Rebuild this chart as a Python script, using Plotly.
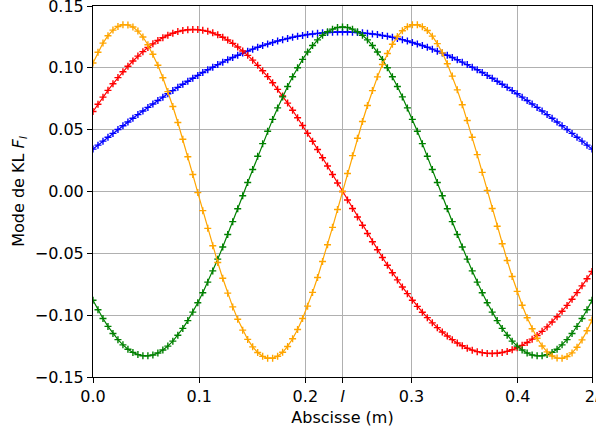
import numpy as np
import plotly.graph_objects as go

# abscissa sampling grid (m), 0 .. 2l with l = 0.235
x = np.linspace(0.0, 0.47, 101)

mode1 = [0.0343,0.0375,0.0407,0.0439,0.0470,0.0501,0.0532,0.0562,0.0592,0.0622,
0.0651,0.0680,0.0708,0.0736,0.0763,0.0790,0.0816,0.0842,0.0867,0.0892,
0.0916,0.0939,0.0962,0.0984,0.1005,0.1026,0.1046,0.1065,0.1084,0.1102,
0.1119,0.1135,0.1151,0.1166,0.1180,0.1193,0.1205,0.1217,0.1228,0.1237,
0.1247,0.1255,0.1262,0.1269,0.1274,0.1279,0.1283,0.1286,0.1288,0.1290,
0.1290,
0.1290,0.1288,0.1286,0.1283,0.1279,0.1274,0.1269,0.1262,0.1255,0.1247,
0.1237,0.1228,0.1217,0.1205,0.1193,0.1180,0.1166,0.1151,0.1135,0.1119,
0.1102,0.1084,0.1065,0.1046,0.1026,0.1005,0.0984,0.0962,0.0939,0.0916,
0.0892,0.0867,0.0842,0.0816,0.0790,0.0763,0.0736,0.0708,0.0680,0.0651,
0.0622,0.0592,0.0562,0.0532,0.0501,0.0470,0.0439,0.0407,0.0375,0.0343]

mode2 = [0.0647,0.0706,0.0763,0.0818,0.0871,0.0921,0.0968,0.1013,0.1055,0.1095,
0.1131,0.1165,0.1194,0.1221,0.1244,0.1264,0.1280,0.1293,0.1302,0.1308,
0.1310,0.1309,0.1303,0.1295,0.1283,0.1267,0.1247,0.1225,0.1198,0.1169,
0.1136,0.1101,0.1062,0.1020,0.0976,0.0929,0.0879,0.0826,0.0772,0.0715,
0.0657,0.0596,0.0534,0.0471,0.0406,0.0340,0.0273,0.0206,0.0137,0.0069,
0.0,
-0.0069,-0.0137,-0.0206,-0.0273,-0.0340,-0.0406,-0.0471,-0.0534,-0.0596,-0.0657,
-0.0715,-0.0772,-0.0826,-0.0879,-0.0929,-0.0976,-0.1020,-0.1062,-0.1101,-0.1136,
-0.1169,-0.1198,-0.1225,-0.1247,-0.1267,-0.1283,-0.1295,-0.1303,-0.1309,-0.1310,
-0.1308,-0.1302,-0.1293,-0.1280,-0.1264,-0.1244,-0.1221,-0.1194,-0.1165,-0.1131,
-0.1095,-0.1055,-0.1013,-0.0968,-0.0921,-0.0871,-0.0818,-0.0763,-0.0706,-0.0647]

mode3 = [-0.0879,-0.0956,-0.1027,-0.1091,-0.1148,-0.1198,-0.1240,-0.1275,-0.1301,-0.1319,
-0.1328,-0.1329,-0.1322,-0.1306,-0.1282,-0.1250,-0.1210,-0.1162,-0.1107,-0.1044,
-0.0975,-0.0900,-0.0819,-0.0733,-0.0642,-0.0547,-0.0449,-0.0348,-0.0244,-0.0139,
-0.0034,0.0073,0.0178,0.0285,0.0387,0.0487,0.0583,0.0676,0.0765,0.0849,
0.0928,0.1001,0.1068,0.1128,0.1180,0.1226,0.1263,0.1292,0.1313,0.1326,
0.1330,
0.1326,0.1313,0.1292,0.1263,0.1226,0.1180,0.1128,0.1068,0.1001,0.0928,
0.0849,0.0765,0.0676,0.0583,0.0487,0.0387,0.0285,0.0178,0.0073,-0.0034,
-0.0139,-0.0244,-0.0348,-0.0449,-0.0547,-0.0642,-0.0733,-0.0819,-0.0900,-0.0975,
-0.1044,-0.1107,-0.1162,-0.1210,-0.1250,-0.1282,-0.1306,-0.1322,-0.1329,-0.1328,
-0.1319,-0.1301,-0.1275,-0.1240,-0.1198,-0.1148,-0.1091,-0.1027,-0.0956,-0.0879]

mode4 = [0.1039,0.1126,0.1200,0.1260,0.1305,0.1334,0.1349,0.1347,0.1330,0.1297,
0.1249,0.1187,0.1110,0.1021,0.0920,0.0808,0.0687,0.0558,0.0422,0.0281,
0.0137,-0.0009,-0.0155,-0.0298,-0.0439,-0.0574,-0.0702,-0.0822,-0.0933,-0.1033,
-0.1121,-0.1196,-0.1256,-0.1302,-0.1333,-0.1348,-0.1348,-0.1332,-0.1300,-0.1253,
-0.1191,-0.1116,-0.1027,-0.0927,-0.0816,-0.0695,-0.0566,-0.0430,-0.0290,-0.0146,
0.0,
0.0146,0.0290,0.0430,0.0566,0.0695,0.0816,0.0927,0.1027,0.1116,0.1191,
0.1253,0.1300,0.1332,0.1348,0.1348,0.1333,0.1302,0.1256,0.1196,0.1121,
0.1033,0.0933,0.0822,0.0702,0.0574,0.0439,0.0298,0.0155,0.0009,-0.0137,
-0.0281,-0.0422,-0.0558,-0.0687,-0.0808,-0.0920,-0.1021,-0.1110,-0.1187,-0.1249,
-0.1297,-0.1330,-0.1347,-0.1349,-0.1334,-0.1305,-0.1260,-0.1200,-0.1126,-0.1039]

x_tickvals = [0.0, 0.1, 0.2, 0.235, 0.3, 0.4, 0.47]
x_ticktext = ["0.0", "0.1", "0.2", "<i>l</i>", "0.3", "0.4", "2<i>l</i>"]
y_tickvals = [-0.15, -0.10, -0.05, 0.0, 0.05, 0.10, 0.15]
y_ticktext = ["\u22120.15", "\u22120.10", "\u22120.05", "0.00", "0.05", "0.10", "0.15"]

series = [(mode1, "blue"), (mode2, "red"), (mode3, "green"), (mode4, "orange")]

fig = go.Figure()
for vals, col in series:
    fig.add_trace(go.Scatter(
        x=x, y=vals, mode="lines+markers",
        line=dict(color=col, width=1.2),
        marker=dict(symbol="cross-thin", size=5, color=col,
                    line=dict(color=col, width=1.4)),
        showlegend=False))

font = dict(family="DejaVu Sans", size=16, color="black")
fig.update_layout(
    width=596, height=434,
    margin=dict(l=93, r=4, t=6, b=57, autoexpand=False),
    paper_bgcolor="white", plot_bgcolor="white",
    font=font,
)
fig.update_xaxes(
    range=[0.0, 0.47], tickvals=x_tickvals, ticktext=x_ticktext,
    showgrid=True, gridcolor="#b0b0b0", gridwidth=1,
    showline=True, linecolor="black", linewidth=1, mirror=True,
    ticks="outside", ticklen=5, tickwidth=1, tickcolor="black",
    zeroline=False, automargin=False, ticklabeloverflow="allow",
    title=dict(text="Abscisse (m)", font=font, standoff=6),
)
fig.update_yaxes(
    range=[-0.15, 0.15], tickvals=y_tickvals, ticktext=y_ticktext,
    showgrid=True, gridcolor="#b0b0b0", gridwidth=1,
    showline=True, linecolor="black", linewidth=1, mirror=True,
    ticks="outside", ticklen=5, tickwidth=1, tickcolor="black",
    zeroline=False, automargin=False, ticklabeloverflow="allow",
    title=dict(text="Mode de KL <i>F<sub>l</sub></i>", font=font, standoff=6),
)
fig.write_html("out.html", config={"displayModeBar": False},
               post_script="document.body.style.margin='0px';")
